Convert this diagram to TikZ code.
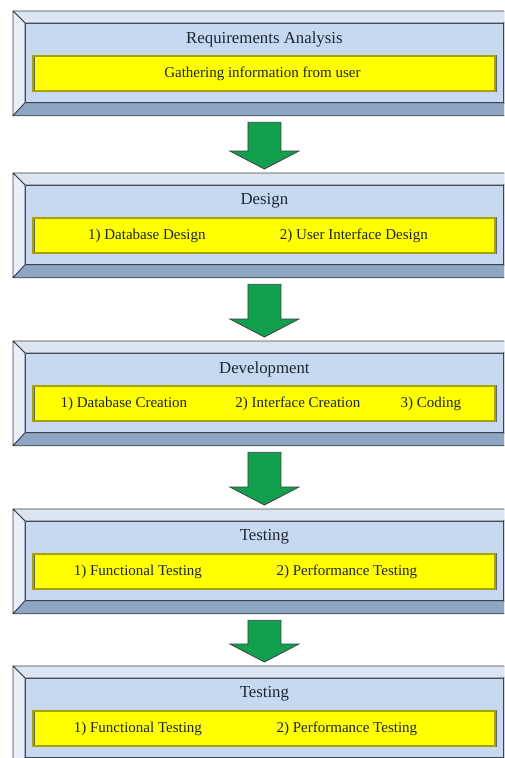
\documentclass[tikz,border=0pt]{standalone}
\usepackage{fontspec}
\setmainfont{Liberation Serif}
\usetikzlibrary{calc}

\definecolor{edge}{HTML}{3A3F48}
\definecolor{ink}{HTML}{1E2633}
\definecolor{facecol}{HTML}{C6D9F0}
\definecolor{bevtop}{HTML}{DCE6F3}
\definecolor{bevleft}{HTML}{E8EFF8}
\definecolor{bevbottom}{HTML}{8FA5C4}
\definecolor{bevright}{HTML}{A8BCD8}
\definecolor{barfill}{HTML}{FFFF00}
\definecolor{barrim}{HTML}{A8A200}
\definecolor{flow}{HTML}{12A04C}

\begin{document}
\begin{tikzpicture}[
  x=1pt, y=-1pt,
  stageframe/.style={draw=edge, line width=0.8pt, fill=bevbottom, anchor=north west, inner sep=0pt, minimum width=502pt, minimum height=104pt},
  stageface/.style={draw=edge, line width=0.8pt, fill=facecol, anchor=north west, inner sep=0pt, minimum width=478pt, minimum height=79pt},
  bevel/.style={draw=edge, line width=0.8pt, line join=round},
  bar/.style={draw=edge!80, double=barrim, double distance=2pt, fill=barfill, inner sep=0pt, minimum width=462pt, minimum height=35pt},
  title/.style={font=\rmfamily\fontsize{16.8}{19}\selectfont, text=ink, inner sep=0pt},
  item/.style={font=\rmfamily\fontsize{15}{17}\selectfont, text=ink, inner sep=0pt},
  flowarr/.style={draw=edge, line width=0.8pt, fill=flow, line join=miter}
]
\useasboundingbox (0,0) rectangle (504,758);
\clip (0,0) rectangle (504,758);

\foreach \i/\top/\name in {1/11/Requirements Analysis, 2/173/Design, 3/341/Development, 4/509/Testing, 5/666/Testing} {
  \node[stageframe] (s\i) at (13,\top) {};
  \node[stageface] (f\i) at ($(s\i.north west)+(12,12)$) {};
  \draw[bevel, fill=bevtop] (s\i.north west) -- (s\i.north east) -- (f\i.north east) -- (f\i.north west) -- cycle;
  \draw[bevel, fill=bevleft] (s\i.north west) -- (f\i.north west) -- (f\i.south west) -- (s\i.south west) -- cycle;
  \draw[bevel, fill=bevbottom] (s\i.south west) -- (f\i.south west) -- (f\i.south east) -- (s\i.south east) -- cycle;
  \draw[bevel, fill=bevright] (s\i.north east) -- (f\i.north east) -- (f\i.south east) -- (s\i.south east) -- cycle;
  \node[title] (t\i) at ($(f\i.north)+(0,16)$) {\name};
  \node[bar] (b\i) at ($(f\i.north)+(0,50.5)$) {};
}

\node[item] (g1) at ([xshift=-2pt]b1.center) {Gathering information from user};
\node[item] (d1) at ([xshift=-117.5pt]b2.center) {1) Database Design};
\node[item] (d2) at ([xshift=89.5pt]b2.center) {2) User Interface Design};
\node[item] (c1) at ([xshift=-140.5pt]b3.center) {1) Database Creation};
\node[item] (c2) at ([xshift=33.5pt]b3.center) {2) Interface Creation};
\node[item] (c3) at ([xshift=166.5pt]b3.center) {3) Coding};
\foreach \i in {4,5} {
  \node[item] (p\i a) at ([xshift=-126.5pt]b\i.center) {1) Functional Testing};
  \node[item] (p\i b) at ([xshift=82.5pt]b\i.center) {2) Performance Testing};
}

\foreach \i/\j in {1/2, 2/3, 3/4, 4/5}
  \draw[flowarr] ($(s\i.south)+(-16.5,6.5)$) -- ($(s\j.north)+(-16.5,-22)$) -- ++(-18,0)
    -- ($(s\j.north)+(0,-4)$) -- ($(s\j.north)+(34.5,-22)$) -- ++(-18,0)
    -- ($(s\i.south)+(16.5,6.5)$) -- cycle;
\end{tikzpicture}
\end{document}
